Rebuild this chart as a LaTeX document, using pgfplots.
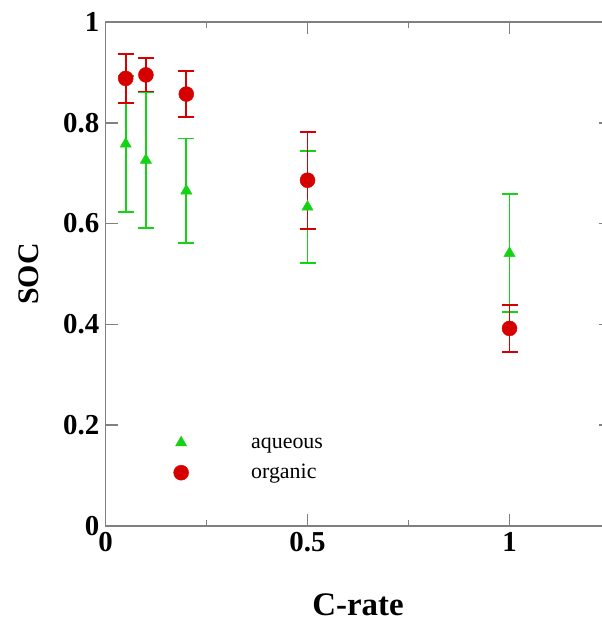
\documentclass[border=0pt]{standalone}
\usepackage{fontspec}
\setmainfont{Liberation Serif}
\usepackage{pgfplots}
\pgfplotsset{compat=1.18}
\definecolor{aqgreen}{RGB}{20,210,20}
\definecolor{orgred}{RGB}{215,0,0}
\begin{document}
\begin{tikzpicture}[x=1bp,y=1bp]
\begin{axis}[
  at={(105.5bp,96bp)}, anchor=south west,
  scale only axis, width=505bp, height=504bp,
  xmin=0, xmax=1.25, ymin=0, ymax=1,
  xtick={0,0.5,1}, minor xtick={0.25,0.75},
  ytick={0,0.2,0.4,0.6,0.8,1},
  tick align=inside,
  major tick length=12bp, minor tick length=6bp,
  axis line style={gray, line width=1.5bp},
  every tick/.style={gray, line width=1.5bp},
  tick label style={font=\fontsize{29}{32}\selectfont\bfseries, inner sep=6bp},
  /pgf/number format/assume math mode=true,
  xlabel={C-rate}, ylabel={SOC},
  xlabel style={font=\fontsize{33}{36}\selectfont\bfseries, at={(axis description cs:0.5,-0.1766)}, anchor=base},
  ylabel style={font=\fontsize{30}{36}\selectfont\bfseries, at={(axis description cs:-0.1317,0.5)}, anchor=base},
  legend style={draw=none, fill=none, inner sep=0pt, column sep=58bp, row sep=5bp,
    at={(axis cs:0.162,0.1905)}, anchor=north west,
    nodes={inner sep=2bp, text height=16bp, text depth=5bp},
    font=\fontsize{22}{25}\selectfont},
  legend cell align=left,
  legend image code/.code={\path[draw=none,fill=none] (-10bp,-5bp) rectangle (10bp,5bp); \draw[#1] plot coordinates {(0bp,0bp)};},
]
\addplot[only marks, mark=triangle*, mark size=6.5bp, color=aqgreen,
  mark options={fill=aqgreen, draw=aqgreen},
  error bars/.cd, y dir=both, y explicit,
  error bar style={line width=1.8bp, color=aqgreen},
  error mark options={rotate=90, mark size=8bp, line width=1.8bp, color=aqgreen}]
  table[x=x, y=y, y error=e] {
x y e
0.05 0.758 0.135
0.1 0.726 0.135
0.2 0.665 0.104
0.5 0.633 0.111
1 0.541 0.117
};
\addlegendentry{aqueous}
\addplot[only marks, mark=*, mark size=7.5bp, color=orgred,
  mark options={fill=orgred, draw=orgred},
  error bars/.cd, y dir=both, y explicit,
  error bar style={line width=1.8bp, color=orgred},
  error mark options={rotate=90, mark size=8bp, line width=1.8bp, color=orgred}]
  table[x=x, y=y, y error=e] {
x y e
0.05 0.888 0.049
0.1 0.895 0.033
0.2 0.857 0.045
0.5 0.686 0.096
1 0.392 0.046
};
\addlegendentry{organic}
\end{axis}
\pgfresetboundingbox
\path[use as bounding box] (0,0) rectangle (602,622);
\end{tikzpicture}
\end{document}
